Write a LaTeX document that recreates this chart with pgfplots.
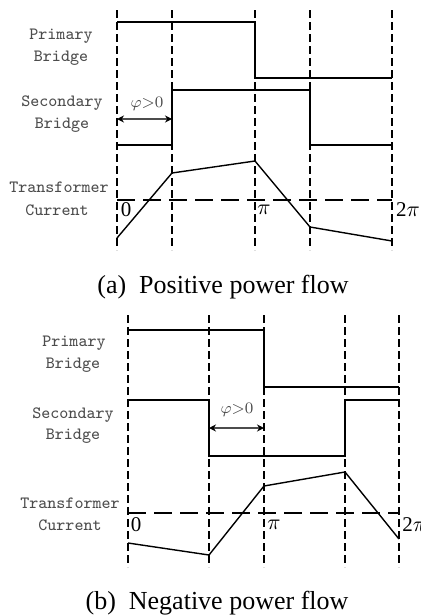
\documentclass[border=0pt]{standalone}
\usepackage{fontspec}
\setmainfont{Liberation Serif}
\usepackage{pgfplots}
\pgfplotsset{compat=1.18}
\usetikzlibrary{arrows.meta}

\definecolor{labelgray}{gray}{0.30}

\tikzset{
  guide/.style={black, line width=1pt, dash pattern=on 4pt off 2pt},
  zeroline/.style={black, line width=1pt, dash pattern=on 9pt off 4pt},
  wave/.style={black, line width=1pt},
  curr/.style={black, line width=0.7pt},
  lbl/.style={font=\ttfamily\fontsize{8.6}{10}\selectfont, text=labelgray},
  num/.style={font=\fontsize{10.5}{12}\selectfont},
  phase/.style={labelgray, line width=0.7pt,
    {Stealth[length=3.5pt,width=3.5pt,black]}-{Stealth[length=3.5pt,width=3.5pt,black]}},
}

\begin{document}
\begin{tikzpicture}
\useasboundingbox (0,0) rectangle (210pt,308pt);
\begin{axis}[
  at={(0,0)}, anchor=south west,
  width=210pt, height=308pt, scale only axis,
  xmin=0, xmax=420, ymin=0, ymax=616, y dir=reverse,
  axis lines=none, ticks=none, clip=false,
]
% ---------- (a) positive power flow ----------
\addplot[guide] coordinates {(117,10) (117,250)};
\addplot[guide] coordinates {(172,10) (172,250)};
\addplot[guide] coordinates {(255,10) (255,250)};
\addplot[guide] coordinates {(310,10) (310,250)};
\addplot[guide] coordinates {(392,10) (392,250)};
\addplot[zeroline] coordinates {(117,200) (392,200)};
% primary bridge
\addplot[wave] coordinates {(117,22) (255,22) (255,78) (392,78)};
% secondary bridge
\addplot[wave] coordinates {(117,145) (172,145) (172,90) (310,90) (310,145) (392,145)};
% transformer current
\addplot[curr] coordinates {(117,238) (172,173) (255,161) (310,227) (392,241)};
% phase shift
\addplot[phase] coordinates {(117,119) (172,119)};
\node[font=\fontsize{8}{9}\selectfont, text=labelgray] at (axis cs:147,104) {$\varphi{>}0$};

\node[lbl] at (axis cs:61,36) {Primary};
\node[lbl] at (axis cs:61,58) {Bridge};
\node[lbl] at (axis cs:62,103) {Secondary};
\node[lbl] at (axis cs:62,125) {Bridge};
\node[lbl] at (axis cs:59,187) {Transformer};
\node[lbl] at (axis cs:57,210) {Current};
\node[num] at (axis cs:126,210) {0};
\node[num] at (axis cs:264,210) {$\pi$};
\node[num] at (axis cs:408,210) {2$\pi$};
\node[font=\fontsize{13}{15}\selectfont] at (axis cs:223,287) {(a)\hspace{0.5em}Positive power flow};

% ---------- (b) negative power flow ----------
\addplot[guide] coordinates {(128,315) (128,567)};
\addplot[guide] coordinates {(209,315) (209,567)};
\addplot[guide] coordinates {(264,315) (264,567)};
\addplot[guide] coordinates {(345,315) (345,567)};
\addplot[guide] coordinates {(399,315) (399,567)};
\addplot[zeroline] coordinates {(128,513) (399,513)};
% primary bridge
\addplot[wave] coordinates {(128,330) (264,330) (264,387) (399,387)};
% secondary bridge
\addplot[wave] coordinates {(128,400) (209,400) (209,456) (345,456) (345,400) (399,400)};
% transformer current
\addplot[curr] coordinates {(128,543) (209,555) (264,486) (345,472) (399,539)};
% phase shift
\addplot[phase] coordinates {(209,428) (264,428)};
\node[font=\fontsize{8}{9}\selectfont, text=labelgray] at (axis cs:237,410) {$\varphi{>}0$};

\node[lbl] at (axis cs:74,343) {Primary};
\node[lbl] at (axis cs:73,365) {Bridge};
\node[lbl] at (axis cs:73,415) {Secondary};
\node[lbl] at (axis cs:73,436) {Bridge};
\node[lbl] at (axis cs:70,503) {Transformer};
\node[lbl] at (axis cs:70,525) {Current};
\node[num] at (axis cs:136,525) {0};
\node[num] at (axis cs:274,525) {$\pi$};
\node[num, anchor=west, inner sep=0pt] at (axis cs:402,525) {2$\pi$};
\node[font=\fontsize{13}{15}\selectfont] at (axis cs:217,603) {(b)\hspace{0.5em}Negative power flow};
\end{axis}
\end{tikzpicture}
\end{document}
